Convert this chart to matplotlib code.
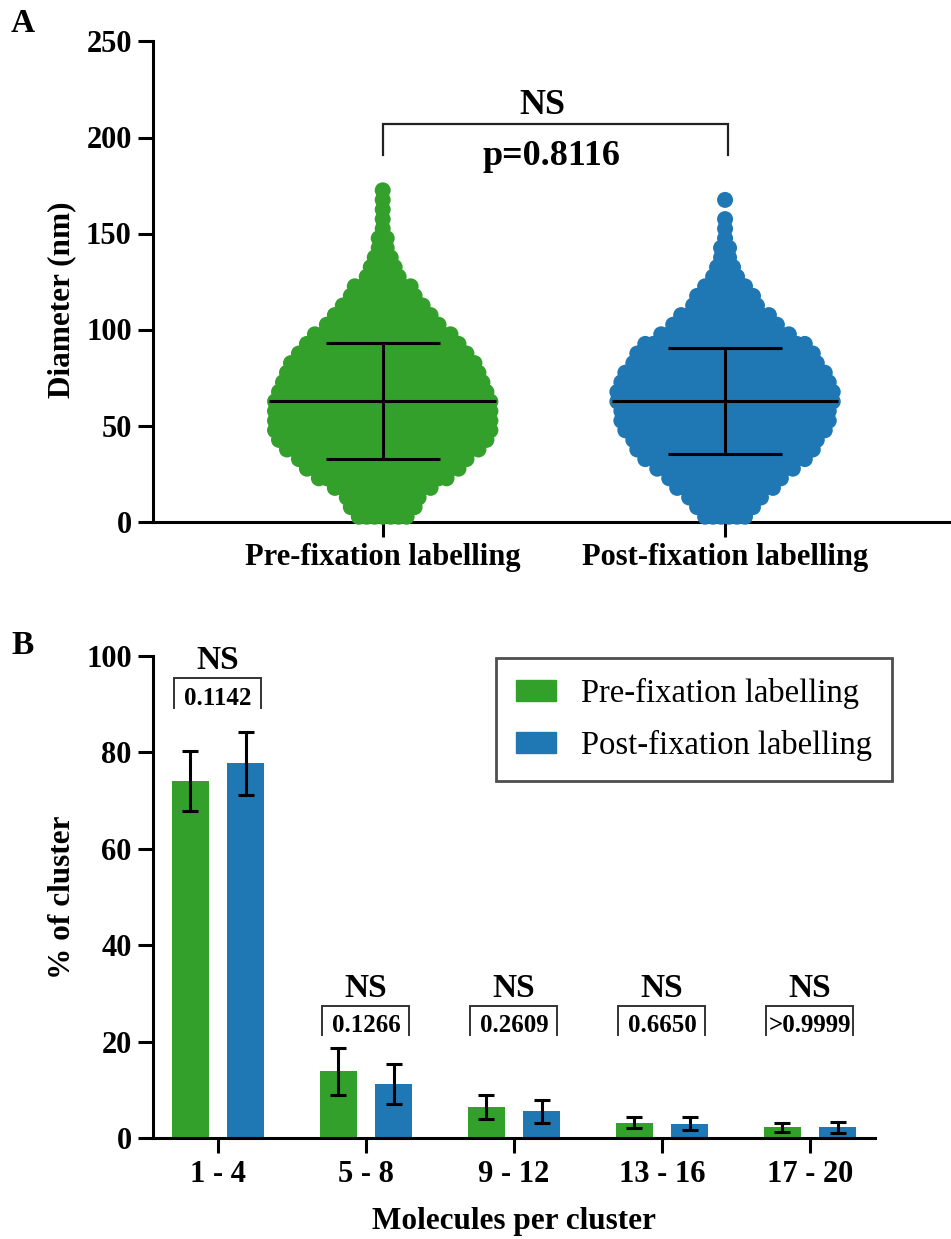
import numpy as np
import matplotlib
matplotlib.use("Agg")
import matplotlib.pyplot as plt
from matplotlib.patches import Patch

plt.rcParams["font.family"] = ["Liberation Serif", "DejaVu Serif"]
plt.rcParams["font.weight"] = "bold"

# ---------------- data ----------------
conditions = ["Pre-fixation labelling", "Post-fixation labelling"]

# Panel A: number of clusters drawn in each 5-nm diameter band (band centres in nm)
diam_band_centres = [2.5, 7.5, 12.5, 17.5, 22.5, 27.5, 32.5, 37.5, 42.5, 47.5,
                     52.5, 57.5, 62.5, 67.5, 72.5, 77.5, 82.5, 87.5, 92.5, 97.5,
                     102.5, 107.5, 112.5, 117.5, 122.5, 127.5, 132.5, 137.5, 142.5, 147.5,
                     152.5, 157.5, 162.5, 167.5, 172.5]
pre_band_counts = [7, 9, 10, 13, 17, 20, 22, 25, 27, 28,
                   28, 28, 28, 27, 26, 25, 24, 22, 20, 18,
                   15, 13, 11, 9, 8, 5, 4, 3, 2, 2,
                   1, 1, 1, 1, 1]
post_band_counts = [6, 8, 10, 13, 15, 18, 21, 23, 24, 26,
                    27, 27, 28, 28, 27, 26, 24, 23, 21, 17,
                    14, 12, 9, 8, 6, 4, 3, 2, 2, 1,
                    1, 1, 0, 1, 0]
diam_mean = [62.8, 62.8]
diam_sd = [30.4, 27.8]
diam_p_text = "p=0.8116"

# Panel B: cluster size distribution (mean ± SD, %)
size_groups = ["1 - 4", "5 - 8", "9 - 12", "13 - 16", "17 - 20"]
pre_pct = [74.0, 13.8, 6.5, 3.2, 2.2]
pre_pct_sd = [6.2, 4.85, 2.5, 1.15, 0.9]
post_pct = [77.7, 11.2, 5.5, 3.0, 2.2]
post_pct_sd = [6.5, 4.2, 2.3, 1.4, 1.15]
size_p_text = ["0.1142", "0.1266", "0.2609", "0.6650", ">0.9999"]

GREEN = "#33A02C"
BLUE = "#1F77B4"
W, H = 951, 1239
LW = 2.2


def fx(px):
    return px / W


def fy(py):
    return 1 - py / H


fig = plt.figure(figsize=(W / 100, H / 100), dpi=100)


def style_axes(ax):
    for s in ("top", "right"):
        ax.spines[s].set_visible(False)
    for s in ("left", "bottom"):
        ax.spines[s].set_linewidth(LW)
    ax.tick_params(axis="both", direction="out", length=10.8, width=LW,
                   labelsize=22, color="black")
    ax.tick_params(axis="y", pad=4.5)
    ax.tick_params(axis="x", pad=5)


# ---------------- panel A ----------------
axA = fig.add_axes([fx(153), fy(521.5), fx(951 - 153), (521.5 - 41.5) / H])
axA.set_xlim(-0.671, 1.66)
axA.set_ylim(0, 250)
style_axes(axA)

dot_step = 0.0233          # horizontal spacing between neighbouring dots (axis units)
dot_size = (16 * 0.72) ** 2
for i, (counts, col) in enumerate(zip([pre_band_counts, post_band_counts], [GREEN, BLUE])):
    xs, ys = [], []
    for yc, n in zip(diam_band_centres, counts):
        if n == 0:
            continue
        offs = (np.arange(n) - (n - 1) / 2) * dot_step
        xs.extend(i + offs)
        ys.extend([yc] * n)
    axA.scatter(xs, ys, s=dot_size, color=col, edgecolors="none",
                zorder=3, clip_on=False)
    m, sd = diam_mean[i], diam_sd[i]
    axA.hlines(m, i - 0.331, i + 0.331, color="black", lw=LW, zorder=5)
    axA.vlines(i, m - sd, m + sd, color="black", lw=LW, zorder=5)
    axA.hlines([m - sd, m + sd], i - 0.166, i + 0.166, color="black", lw=LW, zorder=5)

axA.set_xticks([0, 1])
axA.set_xticklabels(conditions)
axA.set_yticks([0, 50, 100, 150, 200, 250])

# significance bracket
axA.plot([0, 0, 1.009, 1.009], [191, 207, 207, 191], color="#222222", lw=1.6,
         solid_joinstyle="miter")
axA.text(0.466, 212, "NS", ha="center", va="baseline", fontsize=26)
axA.text(0.493, 185.7, diam_p_text, ha="center", va="baseline", fontsize=26)

fig.text(fx(23), fy(24), "A", fontsize=24, ha="center", va="center")
fig.text(fx(62), fy(300), "Diameter (nm)", rotation=90, fontsize=22.5,
         ha="center", va="center")

# ---------------- panel B ----------------
axB = fig.add_axes([fx(153), fy(1138), fx(875 - 153), (1138 - 656) / H])
axB.set_xlim(-0.439, 4.439)
axB.set_ylim(0, 100)
style_axes(axB)

x = np.arange(len(size_groups))
off, bw = 0.1875, 0.25
axB.bar(x - off, pre_pct, width=bw, color=GREEN, zorder=2)
axB.bar(x + off, post_pct, width=bw, color=BLUE, zorder=2)
axB.errorbar(x - off, pre_pct, yerr=pre_pct_sd, fmt="none", ecolor="black",
             elinewidth=LW, capsize=6, capthick=LW, zorder=3)
axB.errorbar(x + off, post_pct, yerr=post_pct_sd, fmt="none", ecolor="black",
             elinewidth=LW, capsize=6, capthick=LW, zorder=3)
axB.set_xticks(x)
axB.set_xticklabels(size_groups)
axB.set_yticks([0, 20, 40, 60, 80, 100])

bracket_base = [89.3, 21.3, 21.3, 21.3, 21.3]
for xi, base, ptxt in zip(x, bracket_base, size_p_text):
    axB.plot([xi - 0.297, xi - 0.297, xi + 0.291, xi + 0.291],
             [base, base + 6.1, base + 6.1, base], color="#333333", lw=1.4,
             solid_joinstyle="miter")
    axB.text(xi, base + 8.0, "NS", ha="center", va="baseline", fontsize=24)
    axB.text(xi, base + 0.6, ptxt, ha="center", va="baseline", fontsize=18)

leg = fig.legend(handles=[Patch(color=GREEN, label=conditions[0]),
                          Patch(color=BLUE, label=conditions[1])],
                 loc="upper left", bbox_to_anchor=(fx(496), fy(658)),
                 bbox_transform=fig.transFigure, borderaxespad=0,
                 prop={"family": "Liberation Serif", "weight": "normal", "size": 23.5},
                 fancybox=False, handlelength=1.23, handleheight=0.62,
                 handletextpad=0.74, borderpad=0.62, labelspacing=0.62)
leg.get_frame().set_edgecolor("#222222")
leg.get_frame().set_linewidth(2.0)

fig.text(fx(23), fy(645), "B", fontsize=24, ha="center", va="center")
fig.text(fx(62), fy(897), "% of cluster", rotation=90, fontsize=22.5,
         ha="center", va="center")
fig.text(fx(514), fy(1222), "Molecules per cluster", fontsize=22.5,
         ha="center", va="center")

fig.savefig("out.png", dpi=100)
